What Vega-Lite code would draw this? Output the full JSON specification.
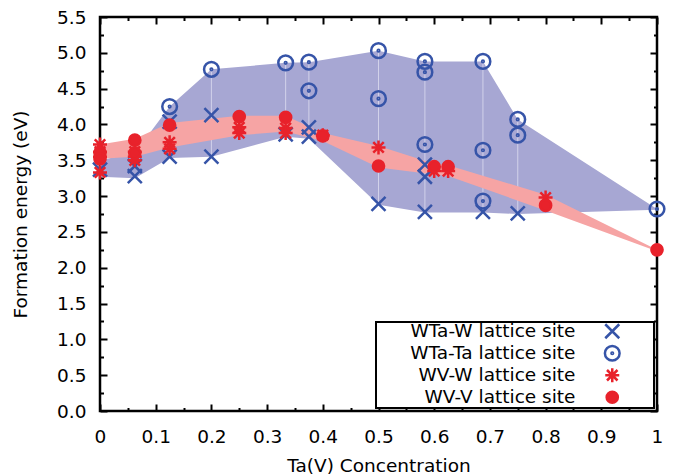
{
  "$schema": "https://vega.github.io/schema/vega-lite/v6.json",
  "width": 557,
  "height": 394,
  "autosize": {"type": "none"},
  "padding": {"left": 100, "top": 17, "right": 27, "bottom": 64},
  "background": "white",
  "config": {
    "view": {"stroke": "black", "strokeWidth": 2.5},
    "font": "DejaVu Sans",
    "axis": {"grid": false, "domain": false, "labelColor": "black", "titleColor": "black", "tickColor": "black", "tickWidth": 2, "labelFont": "DejaVu Sans", "titleFont": "DejaVu Sans", "labelFontSize": 18.5, "titleFontSize": 18.5, "titleFontWeight": "normal", "labelFlush": false, "labelOverlap": false},
    "legend": {"strokeWidth": 2}
  },
  "datasets": {
    "blueband": [
      {"x": 0, "lo": 3.27, "hi": 3.5},
      {"x": 0.0625, "lo": 3.25, "hi": 3.6},
      {"x": 0.125, "lo": 3.53, "hi": 4.25},
      {"x": 0.2, "lo": 3.55, "hi": 4.77},
      {"x": 0.3333, "lo": 3.83, "hi": 4.86},
      {"x": 0.375, "lo": 3.8, "hi": 4.87},
      {"x": 0.5, "lo": 2.88, "hi": 5.03},
      {"x": 0.5833, "lo": 2.77, "hi": 4.88},
      {"x": 0.6875, "lo": 2.77, "hi": 4.88},
      {"x": 0.75, "lo": 2.75, "hi": 4.07},
      {"x": 1, "lo": 2.81, "hi": 2.82}
    ],
    "redband": [
      {"x": 0, "lo": 3.52, "hi": 3.72},
      {"x": 0.0625, "lo": 3.55, "hi": 3.8},
      {"x": 0.125, "lo": 3.68, "hi": 4.02},
      {"x": 0.25, "lo": 3.85, "hi": 4.12},
      {"x": 0.3333, "lo": 3.9, "hi": 4.12},
      {"x": 0.4, "lo": 3.77, "hi": 3.88},
      {"x": 0.5, "lo": 3.4, "hi": 3.7},
      {"x": 0.6, "lo": 3.3, "hi": 3.45},
      {"x": 0.625, "lo": 3.28, "hi": 3.43},
      {"x": 0.8, "lo": 2.8, "hi": 3.02},
      {"x": 1, "lo": 2.23, "hi": 2.25}
    ],
    "points": [
      {"series": "WTa-W lattice site", "x": 0, "y": 3.37},
      {"series": "WTa-W lattice site", "x": 0.0625, "y": 3.42},
      {"series": "WTa-W lattice site", "x": 0.0625, "y": 3.28},
      {"series": "WTa-W lattice site", "x": 0.125, "y": 3.55},
      {"series": "WTa-W lattice site", "x": 0.125, "y": 4.04},
      {"series": "WTa-W lattice site", "x": 0.2, "y": 4.13},
      {"series": "WTa-W lattice site", "x": 0.2, "y": 3.55},
      {"series": "WTa-W lattice site", "x": 0.3333, "y": 3.86},
      {"series": "WTa-W lattice site", "x": 0.375, "y": 3.96},
      {"series": "WTa-W lattice site", "x": 0.375, "y": 3.83},
      {"series": "WTa-W lattice site", "x": 0.5, "y": 2.89},
      {"series": "WTa-W lattice site", "x": 0.5833, "y": 3.44},
      {"series": "WTa-W lattice site", "x": 0.5833, "y": 3.27},
      {"series": "WTa-W lattice site", "x": 0.5833, "y": 2.78},
      {"series": "WTa-W lattice site", "x": 0.6875, "y": 2.78},
      {"series": "WTa-W lattice site", "x": 0.75, "y": 2.76},
      {"series": "WTa-Ta lattice site", "x": 0.125, "y": 4.25},
      {"series": "WTa-Ta lattice site", "x": 0.2, "y": 4.77},
      {"series": "WTa-Ta lattice site", "x": 0.3333, "y": 4.86},
      {"series": "WTa-Ta lattice site", "x": 0.375, "y": 4.87},
      {"series": "WTa-Ta lattice site", "x": 0.375, "y": 4.47},
      {"series": "WTa-Ta lattice site", "x": 0.5, "y": 5.03},
      {"series": "WTa-Ta lattice site", "x": 0.5, "y": 4.36},
      {"series": "WTa-Ta lattice site", "x": 0.5833, "y": 4.88},
      {"series": "WTa-Ta lattice site", "x": 0.5833, "y": 4.73},
      {"series": "WTa-Ta lattice site", "x": 0.5833, "y": 3.72},
      {"series": "WTa-Ta lattice site", "x": 0.6875, "y": 4.88},
      {"series": "WTa-Ta lattice site", "x": 0.6875, "y": 3.64},
      {"series": "WTa-Ta lattice site", "x": 0.6875, "y": 2.93},
      {"series": "WTa-Ta lattice site", "x": 0.75, "y": 4.07},
      {"series": "WTa-Ta lattice site", "x": 0.75, "y": 3.85},
      {"series": "WTa-Ta lattice site", "x": 1, "y": 2.82},
      {"series": "WV-W lattice site", "x": 0, "y": 3.33},
      {"series": "WV-W lattice site", "x": 0, "y": 3.72},
      {"series": "WV-W lattice site", "x": 0, "y": 3.62},
      {"series": "WV-W lattice site", "x": 0, "y": 3.55},
      {"series": "WV-W lattice site", "x": 0.0625, "y": 3.62},
      {"series": "WV-W lattice site", "x": 0.0625, "y": 3.55},
      {"series": "WV-W lattice site", "x": 0.0625, "y": 3.5},
      {"series": "WV-W lattice site", "x": 0.125, "y": 3.75},
      {"series": "WV-W lattice site", "x": 0.125, "y": 3.66},
      {"series": "WV-W lattice site", "x": 0.25, "y": 3.96},
      {"series": "WV-W lattice site", "x": 0.25, "y": 3.88},
      {"series": "WV-W lattice site", "x": 0.3333, "y": 3.95},
      {"series": "WV-W lattice site", "x": 0.3333, "y": 3.88},
      {"series": "WV-W lattice site", "x": 0.4, "y": 3.85},
      {"series": "WV-W lattice site", "x": 0.5, "y": 3.68},
      {"series": "WV-W lattice site", "x": 0.6, "y": 3.35},
      {"series": "WV-W lattice site", "x": 0.625, "y": 3.35},
      {"series": "WV-W lattice site", "x": 0.8, "y": 2.98},
      {"series": "WV-V lattice site", "x": 0, "y": 3.6},
      {"series": "WV-V lattice site", "x": 0, "y": 3.52},
      {"series": "WV-V lattice site", "x": 0.0625, "y": 3.78},
      {"series": "WV-V lattice site", "x": 0.0625, "y": 3.6},
      {"series": "WV-V lattice site", "x": 0.125, "y": 3.99},
      {"series": "WV-V lattice site", "x": 0.25, "y": 4.11},
      {"series": "WV-V lattice site", "x": 0.3333, "y": 4.1},
      {"series": "WV-V lattice site", "x": 0.4, "y": 3.84},
      {"series": "WV-V lattice site", "x": 0.5, "y": 3.42},
      {"series": "WV-V lattice site", "x": 0.6, "y": 3.41},
      {"series": "WV-V lattice site", "x": 0.625, "y": 3.41},
      {"series": "WV-V lattice site", "x": 0.8, "y": 2.87},
      {"series": "WV-V lattice site", "x": 1, "y": 2.25}
    ]
  },
  "layer": [
    {
      "data": {"name": "blueband"},
      "mark": {"type": "area", "color": "#a7a7d3", "opacity": 1},
      "encoding": {
        "x": {"field": "x", "type": "quantitative", "scale": {"domain": [0, 1], "nice": false, "zero": false},
          "axis": {"orient": "bottom", "values": [0, 0.1, 0.2, 0.3, 0.4, 0.5, 0.6, 0.7, 0.8, 0.9, 1], "format": "~g", "ticks": false, "labelPadding": 16, "title": "Ta(V) Concentration", "titlePadding": 11}},
        "y": {"field": "lo", "type": "quantitative", "scale": {"domain": [0, 5.5], "nice": false, "zero": false},
          "axis": {"orient": "left", "values": [0, 0.5, 1, 1.5, 2, 2.5, 3, 3.5, 4, 4.5, 5, 5.5], "format": ".1f", "ticks": false, "labelPadding": 14, "title": "Formation energy (eV)", "titlePadding": 26}},
        "y2": {"field": "hi"}
      }
    },
    {
      "data": {"name": "blueband"},
      "transform": [{"filter": "datum.x > 0.15 && datum.x < 0.9"}],
      "mark": {"type": "rule", "color": "#d2d2ea", "strokeWidth": 1},
      "encoding": {
        "x": {"field": "x", "type": "quantitative",
          "axis": {"orient": "bottom", "values": [0, 0.05, 0.1, 0.15, 0.2, 0.25, 0.3, 0.35, 0.4, 0.45, 0.5, 0.55, 0.6, 0.65, 0.7, 0.75, 0.8, 0.85, 0.9, 0.95, 1], "labels": false, "title": null,
            "tickSize": {"condition": {"test": "abs(datum.value*10 - round(datum.value*10)) < 0.001", "value": -7}, "value": -3.5}}},
        "y": {"field": "lo", "type": "quantitative",
          "axis": {"orient": "left", "values": [0, 0.25, 0.5, 0.75, 1, 1.25, 1.5, 1.75, 2, 2.25, 2.5, 2.75, 3, 3.25, 3.5, 3.75, 4, 4.25, 4.5, 4.75, 5, 5.25, 5.5], "labels": false, "title": null,
            "tickSize": {"condition": {"test": "abs(datum.value*2 - round(datum.value*2)) < 0.001", "value": -7}, "value": -3.5}}},
        "y2": {"field": "hi"}
      }
    },
    {
      "data": {"name": "redband"},
      "mark": {"type": "area", "color": "#f6a4a4", "opacity": 1},
      "encoding": {
        "x": {"field": "x", "type": "quantitative",
          "axis": {"orient": "top", "values": [0, 0.05, 0.1, 0.15, 0.2, 0.25, 0.3, 0.35, 0.4, 0.45, 0.5, 0.55, 0.6, 0.65, 0.7, 0.75, 0.8, 0.85, 0.9, 0.95, 1], "labels": false, "title": null,
            "tickSize": {"condition": {"test": "abs(datum.value*10 - round(datum.value*10)) < 0.001", "value": -7}, "value": -3.5}}},
        "y": {"field": "lo", "type": "quantitative",
          "axis": {"orient": "right", "values": [0, 0.25, 0.5, 0.75, 1, 1.25, 1.5, 1.75, 2, 2.25, 2.5, 2.75, 3, 3.25, 3.5, 3.75, 4, 4.25, 4.5, 4.75, 5, 5.25, 5.5], "labels": false, "title": null,
            "tickSize": {"condition": {"test": "abs(datum.value*2 - round(datum.value*2)) < 0.001", "value": -7}, "value": -3.5}}},
        "y2": {"field": "hi"}
      }
    },
    {
      "data": {"name": "points"},
      "mark": {"type": "point", "strokeWidth": 2.5, "size": 196, "opacity": 1},
      "encoding": {
        "x": {"field": "x", "type": "quantitative", "axis": null},
        "y": {"field": "y", "type": "quantitative", "axis": null},
        "shape": {"field": "series", "type": "nominal",
          "scale": {"domain": ["WTa-W lattice site", "WTa-Ta lattice site", "WV-W lattice site", "WV-V lattice site"],
            "range": ["M-1,-1L1,1M-1,1L1,-1", "M1.05,0A1.05,1.05,0,1,1,-1.05,0A1.05,1.05,0,1,1,1.05,0ZM0.12,0A0.12,0.12,0,1,1,-0.12,0A0.12,0.12,0,1,1,0.12,0Z", "M0,-1L0,1M-1,0L1,0M-0.75,-0.75L0.75,0.75M-0.75,0.75L0.75,-0.75", "M0.8,0A0.8,0.8,0,1,1,-0.8,0A0.8,0.8,0,1,1,0.8,0Z"]},
          "legend": {"orient": "bottom-right", "offset": 3, "title": " ", "titleOrient": "right", "titlePadding": 29, "strokeColor": "black", "fillColor": "white", "padding": 0, "labelFont": "DejaVu Sans", "labelFontSize": 18.5, "labelColor": "black", "labelAlign": "right", "labelOffset": -46, "labelLimit": 400, "symbolOffset": 227, "symbolSize": 196, "symbolStrokeWidth": 2.5, "rowPadding": -4, "cornerRadius": 0}},
        "stroke": {"field": "series", "type": "nominal",
          "scale": {"domain": ["WTa-W lattice site", "WTa-Ta lattice site", "WV-W lattice site", "WV-V lattice site"],
            "range": ["#3654a8", "#3654a8", "#e8222b", "#e8222b"]}},
        "fill": {"field": "series", "type": "nominal",
          "scale": {"domain": ["WTa-W lattice site", "WTa-Ta lattice site", "WV-W lattice site", "WV-V lattice site"],
            "range": ["transparent", "transparent", "transparent", "#e8222b"]}}
      }
    }
  ],
  "resolve": {"axis": {"x": "independent", "y": "independent"}}
}
